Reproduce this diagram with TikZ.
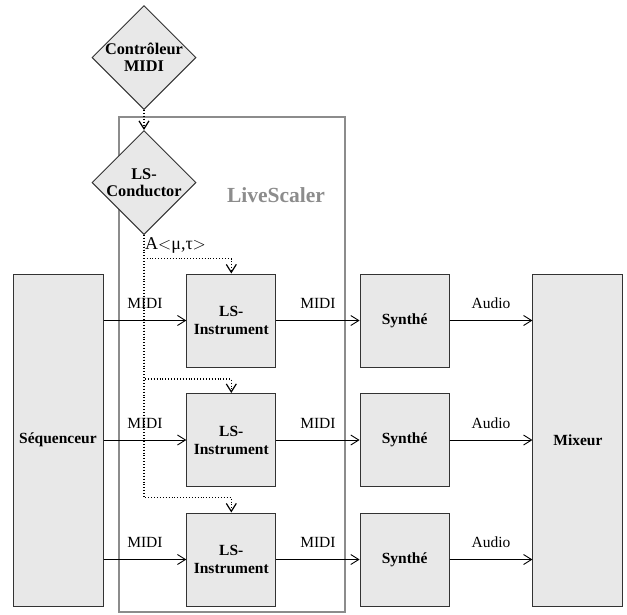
\documentclass[tikz,border=0pt]{standalone}
\usepackage{fontspec}
\setmainfont{Liberation Serif}
\usetikzlibrary{shapes.geometric,arrows.meta}

\begin{document}
\begin{tikzpicture}[
                    x=1pt, y=-1pt,
                    node distance=173.3pt,
                    font=\fontsize{15.5}{18}\selectfont,
                    every node/.style={align=center},
                    blk/.style={
                        rectangle,
                        draw=black!80,
                        fill=gray!18,
                        line width=1pt,
                        minimum width=89pt,
                        minimum height=93pt,
                        font=\fontsize{15.5}{18}\selectfont\bfseries
                    },
                    tall/.style={blk, minimum width=90pt, minimum height=332pt},
                    dmd/.style={
                        diamond,
                        draw=black!80,
                        fill=gray!18,
                        line width=1pt,
                        minimum size=104pt,
                        inner sep=-8pt,
                        font=\fontsize{16.3}{17}\selectfont\bfseries
                    },
                    flow/.style={-{Straight Barb[length=8pt,width=10pt]}, line width=0.9pt},
                    ctrl/.style={flow, dotted, line width=1.2pt},
                    frame/.style={draw=gray!90, line width=2pt}
                ]
                    \useasboundingbox (0,0) rectangle (627,614);

                    % LiveScaler frame
                    \node[frame, minimum width=226pt, minimum height=495pt] (ls) at (232,364.5) {};
                    \node[font=\fontsize{21.5}{24}\selectfont\bfseries, text=gray!90] (lsname) at (276,195) {LiveScaler};

                    \node[tall] (seq) at (58,440) {Séquenceur};
                    \node[blk] (i2) [right of=seq] {LS-\\Instrument};
                    \node[blk] (i1) [node distance=119.5pt, above of=i2] {LS-\\Instrument};
                    \node[blk] (i3) [node distance=119.5pt, below of=i2] {LS-\\Instrument};
                    \node[blk] (s1) [right of=i1] {Synthé};
                    \node[blk] (s2) [right of=i2] {Synthé};
                    \node[blk] (s3) [right of=i3] {Synthé};
                    \node[tall] (mix) [right of=s2] {Mixeur};
                    \node[dmd] (cond) at (144,182.5) {LS-\\Conductor};
                    \node[dmd] (ctl) [node distance=125pt, above of=cond] {Contrôleur\\MIDI};
                    \node[anchor=west, inner sep=1pt, font=\fontsize{18}{20}\selectfont] (amt) at ([yshift=-10pt]cond.south) {A$<$μ,τ$>$};

                    % Control
                    \draw[ctrl] (ctl) -- (cond);
                    \draw[ctrl] (cond.south) |- ([yshift=15pt]i1.north) -- (i1.north);
                    \draw[ctrl] (cond.south) |- ([yshift=14pt]i2.north) -- (i2.north);
                    \draw[ctrl] (cond.south) |- ([yshift=15pt]i3.north) -- (i3.north);

                    % MIDI and audio
                    \draw[flow] (seq.east |- i1) -- node[above=8pt] {MIDI} (i1);
                    \draw[flow] (seq.east |- i2) -- node[above=8pt] {MIDI} (i2);
                    \draw[flow] (seq.east |- i3) -- node[above=8pt] {MIDI} (i3);
                    \draw[flow] (i1) -- node[above=8pt] {MIDI} (s1);
                    \draw[flow] (i2) -- node[above=8pt] {MIDI} (s2);
                    \draw[flow] (i3) -- node[above=8pt] {MIDI} (s3);
                    \draw[flow] (s1) -- node[above=8pt] {Audio} (mix.west |- s1);
                    \draw[flow] (s2) -- node[above=8pt] {Audio} (mix.west |- s2);
                    \draw[flow] (s3) -- node[above=8pt] {Audio} (mix.west |- s3);
                \end{tikzpicture}
\end{document}
